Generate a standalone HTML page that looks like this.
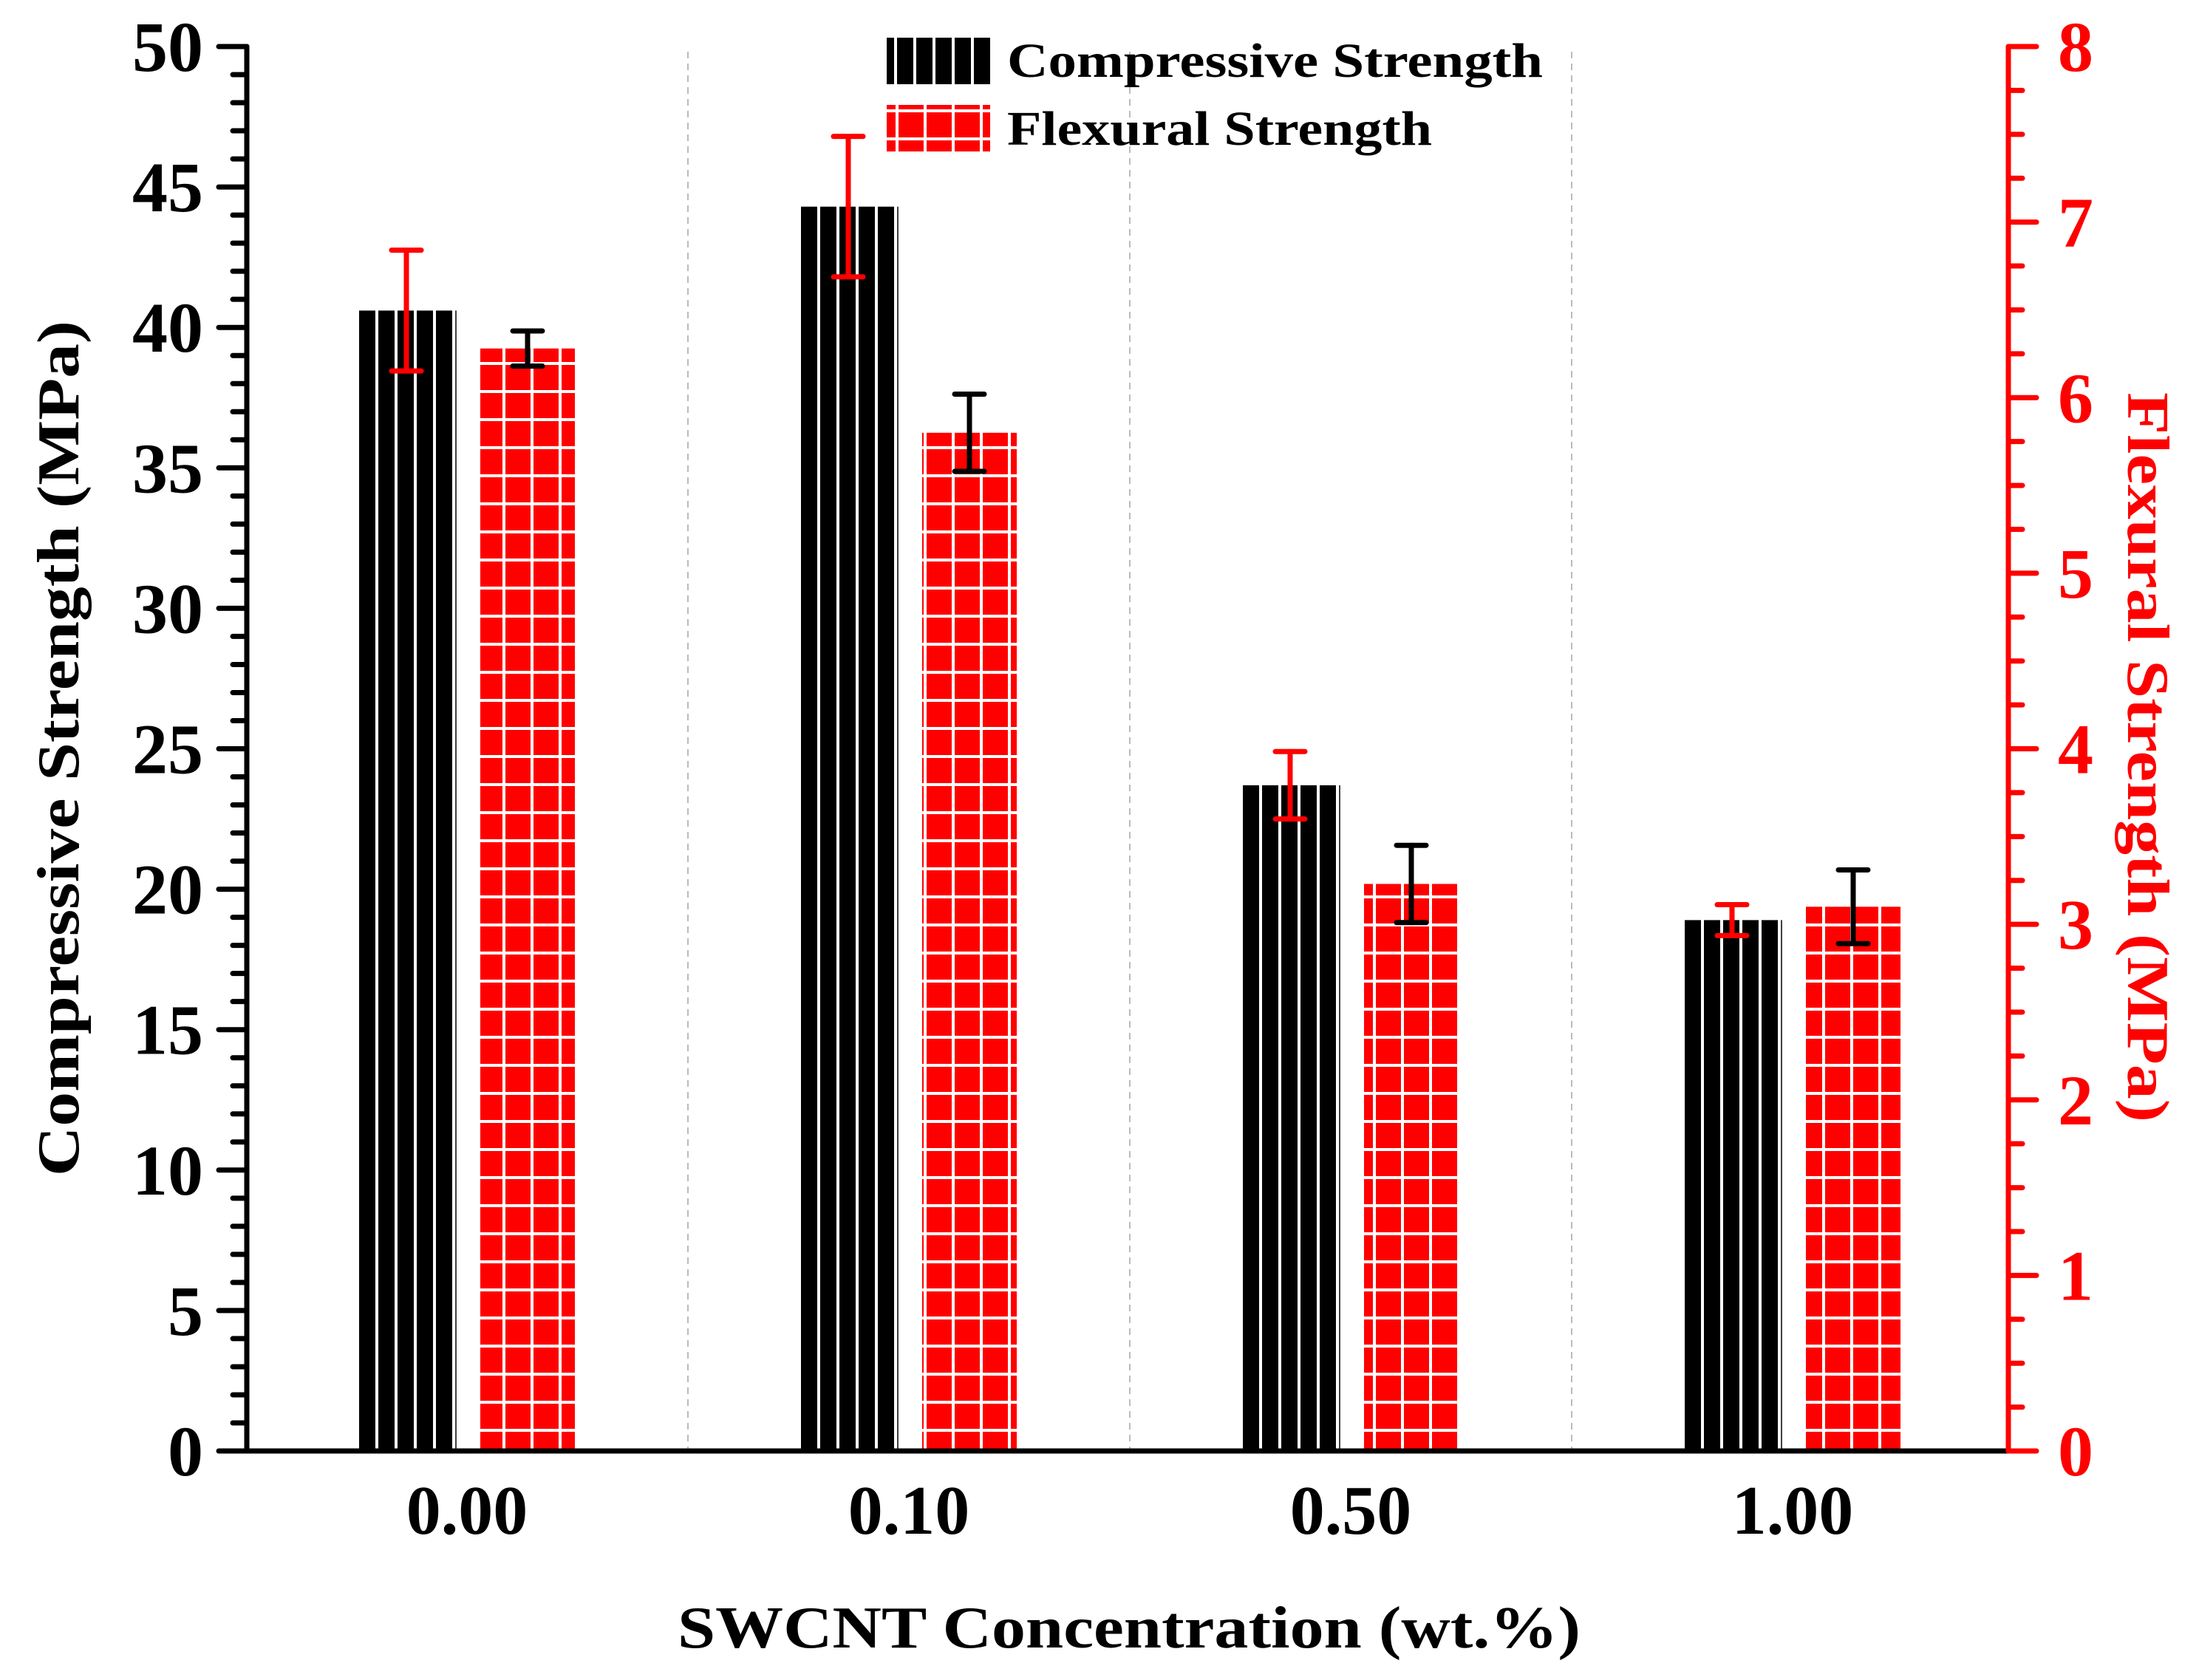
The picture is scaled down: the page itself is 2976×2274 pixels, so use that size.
<!DOCTYPE html>
<html><head><meta charset="utf-8"><style>
html,body{margin:0;padding:0;background:#fff;}
svg{display:block;font-family:"Liberation Serif",serif;font-weight:bold;}
</style></head><body>
<svg id="chart" width="2976" height="2274" viewBox="0 0 2976 2274" xmlns="http://www.w3.org/2000/svg">
<defs>
<pattern id="stripes" patternUnits="userSpaceOnUse" width="26" height="40" x="1084">
<rect width="22" height="40" fill="#000"/>
</pattern>
<pattern id="grid" patternUnits="userSpaceOnUse" width="38" height="38">
<rect width="34" height="34" fill="#f00"/>
</pattern>
</defs>
<g id="plot"></g>
</svg>
<script>
const categories = ["0.00","0.10","0.50","1.00"];
const compressive = [40.6, 44.3, 23.7, 18.9];
const compressiveErr = [2.15, 2.5, 1.2, 0.55];
const flexural = [6.28, 5.80, 3.23, 3.10];
const flexuralErr = [0.1, 0.22, 0.22, 0.21];
const leftTicks = [0,5,10,15,20,25,30,35,40,45,50];
const rightTicks = [0,1,2,3,4,5,6,7,8];

const NS = "http://www.w3.org/2000/svg";
const svg = document.getElementById("chart");
const g = document.getElementById("plot");
const X0 = 334, X1 = 2718, Y0 = 1964, Y1 = 63;
const yL = v => Y0 - (v/50)*(Y0-Y1);
const yR = v => Y0 - (v/8)*(Y0-Y1);
const xC = i => 632 + i*598;
const BW = 128, OFF = 82;
function el(tag, attrs, parent){const e=document.createElementNS(NS,tag);for(const k in attrs)e.setAttribute(k,attrs[k]);(parent||g).appendChild(e);return e;}

for(let i=0;i<3;i++){
  const x=(xC(i)+xC(i+1))/2;
  const l=el("line",{x1:x,x2:x,y1:70,y2:Y0,stroke:"#bbb","stroke-width":2,"stroke-dasharray":"9,7"});
  
  
}
categories.forEach((c,i)=>{
  const xb=xC(i)-OFF-BW/2, yt=yL(compressive[i]);
  const b=el("rect",{x:xb,y:yt,width:BW,height:Y0-yt,fill:"url(#stripes)"});
  
  
  el("line",{x1:xb+BW+3,x2:xb+BW+3,y1:yt,y2:Y0,stroke:"#000","stroke-width":1.5});
  const xr=xC(i)+OFF-BW/2, yr=yR(flexural[i]);
  const r=el("rect",{x:xr,y:yr,width:BW,height:Y0-yr,fill:"url(#grid)"});
  
  
});
function err(x,ylo,yhi,col,name){
  const gg=el("g",{stroke:col,"stroke-width":7,"stroke-linecap":"round"});
  
  
  el("line",{x1:x,x2:x,y1:ylo,y2:yhi},gg);
  el("line",{x1:x-20,x2:x+20,y1:ylo,y2:ylo},gg);
  el("line",{x1:x-20,x2:x+20,y1:yhi,y2:yhi},gg);
}
categories.forEach((c,i)=>{
  err(xC(i)-OFF, yL(compressive[i]-compressiveErr[i]), yL(compressive[i]+compressiveErr[i]), "#f00", 'compressive-error-'+c);
  err(xC(i)+OFF, yR(flexural[i]-flexuralErr[i]), yR(flexural[i]+flexuralErr[i]), "#000", 'flexural-error-'+c);
});
const ax=el("g",{stroke:"#000","stroke-width":7,"stroke-linecap":"round"});


el("line",{x1:X0,x2:X0,y1:Y1,y2:Y0},ax);
for(let v=0;v<=50;v++){
  const y=yL(v), major=v%5===0;
  el("line",{x1:X0-(major?38:19),x2:X0,y1:y,y2:y},ax);
}
leftTicks.forEach(v=>{
  const t=el("text",{x:275,y:yL(v)+33,"text-anchor":"end","font-size":96,fill:"#000"});
  t.textContent=v;
  
  
});
el("line",{x1:X0,x2:X1,y1:Y0,y2:Y0,stroke:"#000","stroke-width":7});
const ar=el("g",{stroke:"#f00","stroke-width":7,"stroke-linecap":"round"});


el("line",{x1:X1,x2:X1,y1:Y1,y2:Y0},ar);
for(let k=0;k<=32;k++){
  const y=yR(k/4), major=k%4===0;
  el("line",{x1:X1,x2:X1+(major?38:19),y1:y,y2:y},ar);
}
rightTicks.forEach(v=>{
  const t=el("text",{x:2785,y:yR(v)+33,"font-size":96,fill:"#f00"});
  t.textContent=v;
  
  
});
categories.forEach((c,i)=>{
  const t=el("text",{x:xC(i),y:2076,"text-anchor":"middle","font-size":94,fill:"#000"});
  t.textContent=c;
  
  
});
</script>
<svg style="position:absolute;left:0;top:0" width="2976" height="2274" viewBox="0 0 2976 2274" xmlns="http://www.w3.org/2000/svg" font-family="Liberation Serif, serif" font-weight="bold">
<text x="1528" y="2230" text-anchor="middle" font-size="80" textLength="1222" lengthAdjust="spacingAndGlyphs">SWCNT Concentration (wt.%)</text>
<text transform="translate(106,1013) rotate(-90)" text-anchor="middle" font-size="80" textLength="1158" lengthAdjust="spacingAndGlyphs">Compressive Strength (MPa)</text>
<text transform="translate(2880,1025) rotate(90)" text-anchor="middle" font-size="80" fill="#f00" textLength="988" lengthAdjust="spacingAndGlyphs">Flexural Strength (MPa)</text>
<g>
<rect x="1200" y="51" width="140" height="63" fill="url(#stripes)"/>
<text x="1363" y="104" font-size="66" textLength="725" lengthAdjust="spacingAndGlyphs">Compressive Strength</text>
<rect x="1200" y="142" width="140" height="63" fill="url(#grid)"/>
<text x="1363" y="196" font-size="66" textLength="575" lengthAdjust="spacingAndGlyphs">Flexural Strength</text>
</g>
</svg>
</body></html>
